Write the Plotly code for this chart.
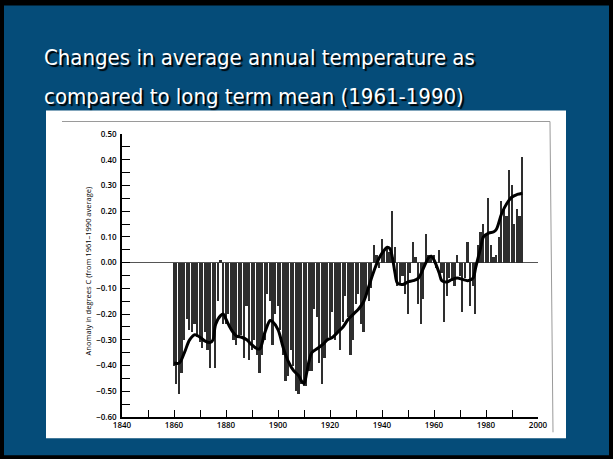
import plotly.graph_objects as go

# annual anomalies (deg C, relative to 1961-1990)
years = list(range(1860, 1995))
anomaly = [
    -0.40, -0.47, -0.51, -0.43, -0.30, -0.22, -0.26, -0.27, -0.24, -0.29,
    -0.31, -0.33, -0.27, -0.34, -0.41, -0.30, -0.41, -0.15, 0.01, -0.24,
    -0.24, -0.20, -0.26, -0.30, -0.32, -0.29, -0.28, -0.37, -0.17, -0.38,
    -0.34, -0.30, -0.36, -0.43, -0.36, -0.30, -0.12, -0.15, -0.32, -0.20,
    -0.17, -0.26, -0.36, -0.46, -0.44, -0.34, -0.40, -0.50, -0.51, -0.47,
    -0.48, -0.48, -0.42, -0.42, -0.18, -0.21, -0.39, -0.47, -0.37, -0.30,
    -0.29, -0.19, -0.30, -0.27, -0.34, -0.23, -0.13, -0.21, -0.36, -0.30,
    -0.16, -0.12, -0.24, -0.27, -0.13, -0.15, -0.10, 0.07, 0.03, -0.02,
    0.09, 0.05, 0.06, 0.04, 0.20, 0.06, -0.09, -0.08, -0.05, -0.12,
    -0.20, -0.04, 0.08, 0.02, -0.16, -0.24, -0.14, 0.11, 0.03, 0.03,
    0.03, -0.02, 0.05, -0.04, -0.23, -0.13, -0.06, -0.07, -0.09, 0.03,
    -0.05, -0.19, -0.06, 0.08, -0.17, -0.09, -0.20, 0.07, 0.12, 0.15,
    0.11, 0.25, 0.07, 0.02, 0.03, 0.10, 0.24, 0.21, 0.18, 0.36,
    0.30, 0.15, 0.21, 0.18, 0.41,
]

# smoothed curve
smooth_years = [1860, 1862, 1864, 1866, 1868, 1870, 1872, 1874, 1875, 1876,
                1878, 1879, 1880, 1882, 1884, 1886, 1888, 1890, 1892, 1893,
                1895, 1897, 1898, 1900, 1902, 1904, 1906, 1908, 1909, 1910,
                1911, 1912, 1913, 1915, 1917, 1919, 1921, 1923, 1925, 1927,
                1929, 1931, 1933, 1935, 1937, 1939, 1941, 1942, 1943, 1944,
                1945, 1946, 1948, 1950, 1952, 1954, 1956, 1958, 1959, 1960,
                1962, 1963, 1965, 1967, 1969, 1971, 1973, 1975, 1976, 1977,
                1978, 1979, 1981, 1983, 1984, 1986, 1988, 1990, 1992, 1994]
smooth_vals = [-0.39, -0.39, -0.35, -0.30, -0.28, -0.29, -0.305, -0.31, -0.30, -0.24,
               -0.205, -0.20, -0.22, -0.26, -0.285, -0.29, -0.30, -0.32, -0.335, -0.335,
               -0.27, -0.225, -0.23, -0.26, -0.33, -0.385, -0.42, -0.44, -0.46, -0.47,
               -0.43, -0.38, -0.35, -0.335, -0.32, -0.30, -0.29, -0.27, -0.25, -0.22,
               -0.20, -0.18, -0.15, -0.09, -0.03, 0.02, 0.05, 0.06, 0.055, 0.02,
               -0.04, -0.08, -0.085, -0.075, -0.07, -0.06, -0.02, 0.02, 0.025, 0.01,
               -0.04, -0.07, -0.075, -0.065, -0.06, -0.065, -0.07, -0.06, -0.02, 0.02,
               0.06, 0.10, 0.115, 0.12, 0.13, 0.19, 0.23, 0.255, 0.265, 0.27]

x_ticks = list(range(1840, 2001, 10))
x_labels = [str(v) if v % 20 == 0 else "" for v in x_ticks]
y_ticks = [round(-0.6 + 0.1 * i, 2) for i in range(12)]
y_labels = [("\u2212%.2f" % abs(v)) if v < 0 else "%.2f" % v for v in y_ticks]

title_lines = ["Changes in average annual temperature as",
               "compared to long term mean (1961-1990)"]
y_title = "Anomaly in degrees C (from 1961\u20131990 average)"

W, H = 613, 459
L, R, T, B = 122, 538, 133.5, 416.7


def px(x):
    return (x - L) / (R - L)


def py(y):
    return (B - y) / (B - T)


title_font = dict(family="Liberation Sans Narrow, DejaVu Sans Condensed", size=22,
                  color="white", shadow="2px 2px 1px #000000")
tick_font = dict(family="Open Sans", size=8, color="black", weight=600)

fig = go.Figure()
fig.add_trace(go.Bar(
    x=years, y=anomaly, width=0.66,
    marker_color="#2e2e2e", marker_line_width=0,
))
fig.add_trace(go.Scatter(
    x=smooth_years, y=smooth_vals, mode="lines",
    line=dict(color="black", width=3, shape="spline", smoothing=1.0),
))

shapes = [
    # slide background with black frame
    dict(type="rect", xref="paper", yref="paper",
         x0=px(4), x1=px(W - 4), y0=py(H - 4), y1=py(5),
         fillcolor="#054C79", line_width=0, layer="below"),
    # white picture box
    dict(type="rect", xref="paper", yref="paper",
         x0=px(46), x1=px(566), y0=py(438), y1=py(110),
         fillcolor="white", line_width=0, layer="below"),
    # faint frame of the scanned figure
    dict(type="path", xref="paper", yref="paper",
         path="M %f,%f L %f,%f L %f,%f" % (px(62), py(121), px(550), py(121),
                                          px(553), py(432)),
         line=dict(color="#9a9a9a", width=1), layer="below"),
]

annotations = [
    dict(text=title_lines[0], x=px(42), y=py(57), xref="paper", yref="paper",
         xanchor="left", yanchor="middle", showarrow=False, font=title_font),
    dict(text=title_lines[1], x=px(42), y=py(96), xref="paper", yref="paper",
         xanchor="left", yanchor="middle", showarrow=False, font=title_font),
    dict(text=y_title, x=px(88), y=py(271), xref="paper", yref="paper",
         xanchor="center", yanchor="middle", textangle=-90, showarrow=False,
         font=dict(family="Open Sans", size=7.5, color="black")),
]

fig.update_layout(
    width=W, height=H,
    margin=dict(l=L, r=W - R, t=T, b=H - B, pad=0),
    paper_bgcolor="black", plot_bgcolor="rgba(0,0,0,0)",
    showlegend=False, bargap=0,
    shapes=shapes, annotations=annotations,
    xaxis=dict(range=[1840, 2000], tickvals=x_ticks, ticktext=x_labels,
               ticks="inside", ticklen=7, tickwidth=1.2, tickcolor="black",
               showline=True, linecolor="black", linewidth=1.5,
               showgrid=False, zeroline=False, tickfont=tick_font),
    yaxis=dict(range=[-0.6, 0.5], tickvals=y_ticks, ticktext=y_labels,
               ticks="inside", ticklen=8, tickwidth=1.2, tickcolor="black",
               minor=dict(dtick=0.05, tick0=0, ticks="inside", ticklen=8,
                          tickwidth=1.2, tickcolor="black"),
               showline=True, linecolor="black", linewidth=1.5,
               showgrid=False, zeroline=True, zerolinecolor="#555555",
               zerolinewidth=1, tickfont=tick_font, ticklabelstandoff=2),
)

# the page has a default body margin; remove it so the slide fills the window
fig.write_html("out.html", config={"displayModeBar": False},
               post_script="document.body.style.margin='0';"
                           "document.body.style.overflow='hidden';")
